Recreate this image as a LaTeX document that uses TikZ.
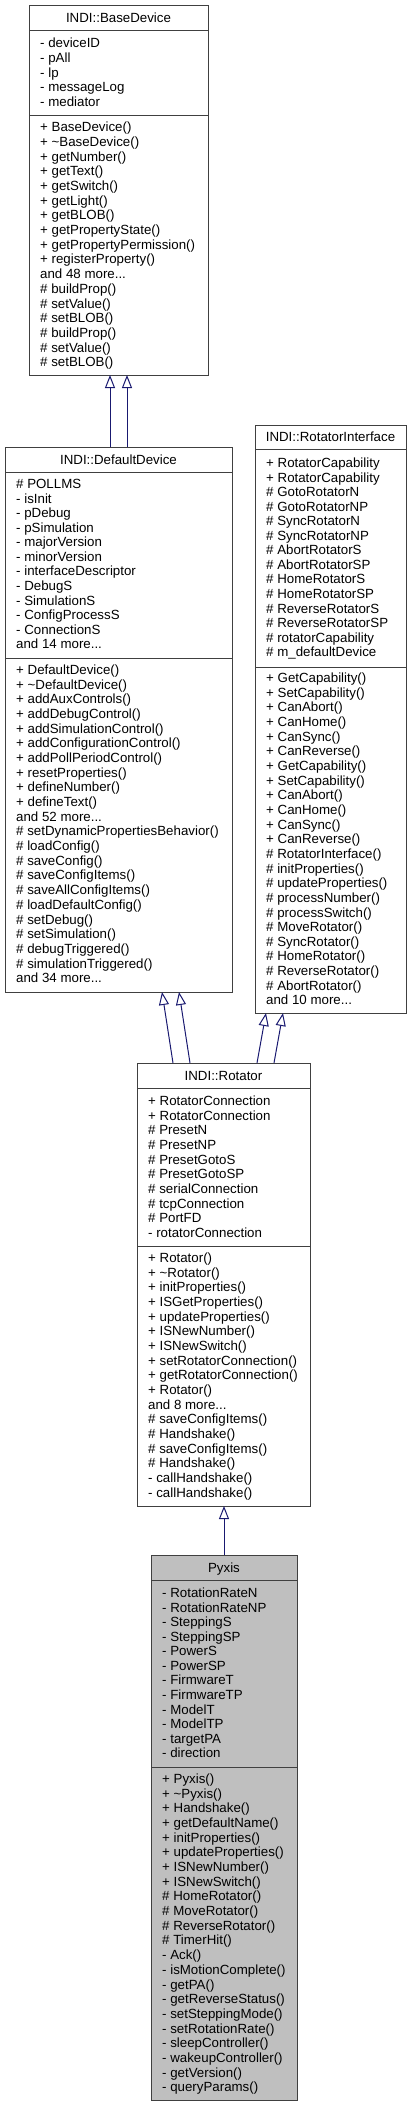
\documentclass[tikz,border=0pt]{standalone}
\usepackage{fontspec}
\setmainfont{Liberation Sans}
\usetikzlibrary{arrows.meta}
\definecolor{edgeblue}{HTML}{191970}
\definecolor{bord}{HTML}{404040}
\definecolor{pyx}{HTML}{BFBFBF}
\tikzset{
  cls/.style={draw=bord, line width=1pt, inner sep=0pt, anchor=north west},
  txt/.style={anchor=base west, inner sep=0pt, font=\fontsize{13.3}{14.7}\selectfont},
  ttl/.style={anchor=base, inner sep=0pt, font=\fontsize{13.3}{14.7}\selectfont},
  sepline/.style={draw=bord, line width=1pt},
  inh/.style={draw=edgeblue, line width=1pt, -{Triangle[open, width=10pt, length=13pt, fill=white]}}
}
\newcommand\andmore[1]{and #1 more...}
% #1 name, #2 x, #3 y0, #4 dy, #5 list
\newcommand\cllines[5]{%
  \foreach \t [count=\i from 0] in {#5} {\node[txt] (#1-\i) at (#2, {#3+\i*#4+4.6}) {\t};}}
% #1 name #2 L #3 R #4 T #5 S1 #6 S2 #7 B #8 fill #9 title
\newcommand\clbox[9]{%
  \node[cls, fill=#8, minimum width={(#3-#2)*1pt}, minimum height={(#7-#4)*1pt}] (#1) at (#2,#4) {};
  \draw[sepline] (#2,#5) -- (#3,#5);
  \draw[sepline] (#2,#6) -- (#3,#6);
  \node[ttl] (#1-title) at ({(#2+#3)/2}, {(#4+#5)/2+4.6}) {#9};}
\begin{document}
\begin{tikzpicture}[x=1pt, y=-1pt]
\useasboundingbox (0,0) rectangle (411,2107);

% BaseDevice
\clbox{base}{29}{208}{5}{30}{115}{375}{white}{INDI::BaseDevice}
\cllines{basea}{40}{43}{14.7}{- deviceID,- pAll,- lp,- messageLog,- mediator}
\cllines{basem}{40}{127}{14.7}{+ BaseDevice(),+ \textasciitilde BaseDevice(),+ getNumber(),+ getText(),+ getSwitch(),+ getLight(),+ getBLOB(),+ getPropertyState(),+ getPropertyPermission(),+ registerProperty(),\andmore{48},\# buildProp(),\# setValue(),\# setBLOB(),\# buildProp(),\# setValue(),\# setBLOB()}

% DefaultDevice
\clbox{dd}{5}{232}{447}{472}{658}{992}{white}{INDI::DefaultDevice}
\cllines{dda}{16}{484}{14.55}{\# POLLMS,- isInit,- pDebug,- pSimulation,- majorVersion,- minorVersion,- interfaceDescriptor,- DebugS,- SimulationS,- ConfigProcessS,- ConnectionS,\andmore{14}}
\cllines{ddm}{16}{670}{14.67}{+ DefaultDevice(),+ \textasciitilde DefaultDevice(),+ addAuxControls(),+ addDebugControl(),+ addSimulationControl(),+ addConfigurationControl(),+ addPollPeriodControl(),+ resetProperties(),+ defineNumber(),+ defineText(),\andmore{52},\# setDynamicPropertiesBehavior(),\# loadConfig(),\# saveConfig(),\# saveConfigItems(),\# saveAllConfigItems(),\# loadDefaultConfig(),\# setDebug(),\# setSimulation(),\# debugTriggered(),\# simulationTriggered(),\andmore{34}}

% RotatorInterface
\clbox{ri}{255}{406}{425}{449.5}{667}{1013}{white}{INDI::RotatorInterface}
\cllines{ria}{266}{463}{14.54}{+ RotatorCapability,+ RotatorCapability,\# GotoRotatorN,\# GotoRotatorNP,\# SyncRotatorN,\# SyncRotatorNP,\# AbortRotatorS,\# AbortRotatorSP,\# HomeRotatorS,\# HomeRotatorSP,\# ReverseRotatorS,\# ReverseRotatorSP,\# rotatorCapability,\# m\_defaultDevice}
\cllines{rim}{266}{678}{14.65}{+ GetCapability(),+ SetCapability(),+ CanAbort(),+ CanHome(),+ CanSync(),+ CanReverse(),+ GetCapability(),+ SetCapability(),+ CanAbort(),+ CanHome(),+ CanSync(),+ CanReverse(),\# RotatorInterface(),\# initProperties(),\# updateProperties(),\# processNumber(),\# processSwitch(),\# MoveRotator(),\# SyncRotator(),\# HomeRotator(),\# ReverseRotator(),\# AbortRotator(),\andmore{10}}

% Rotator
\clbox{rot}{137}{310}{1063}{1088}{1246}{1506}{white}{INDI::Rotator}
\cllines{rota}{148}{1101}{14.67}{+ RotatorConnection,+ RotatorConnection,\# PresetN,\# PresetNP,\# PresetGotoS,\# PresetGotoSP,\# serialConnection,\# tcpConnection,\# PortFD,- rotatorConnection}
\cllines{rotm}{148}{1258}{14.67}{+ Rotator(),+ \textasciitilde Rotator(),+ initProperties(),+ ISGetProperties(),+ updateProperties(),+ ISNewNumber(),+ ISNewSwitch(),+ setRotatorConnection(),+ getRotatorConnection(),+ Rotator(),\andmore{8},\# saveConfigItems(),\# Handshake(),\# saveConfigItems(),\# Handshake(),- callHandshake(),- callHandshake()}

% Pyxis
\clbox{pyxis}{151}{297}{1555}{1580}{1767}{2100}{pyx}{Pyxis}
\cllines{pyxa}{162}{1593}{14.55}{- RotationRateN,- RotationRateNP,- SteppingS,- SteppingSP,- PowerS,- PowerSP,- FirmwareT,- FirmwareTP,- ModelT,- ModelTP,- targetPA,- direction}
\cllines{pyxm}{162}{1779}{14.67}{+ Pyxis(),+ \textasciitilde Pyxis(),+ Handshake(),+ getDefaultName(),+ initProperties(),+ updateProperties(),+ ISNewNumber(),+ ISNewSwitch(),\# HomeRotator(),\# MoveRotator(),\# ReverseRotator(),\# TimerHit(),- Ack(),- isMotionComplete(),- getPA(),- getReverseStatus(),- setSteppingMode(),- setRotationRate(),- sleepController(),- wakeupController(),- getVersion(),- queryParams()}

% connector end points on box edges
\coordinate (ddT1) at (110,447);  \coordinate (baseB1) at (110,375);
\coordinate (ddT2) at (127,447);  \coordinate (baseB2) at (127,375);
\coordinate (rotT1) at (173,1063); \coordinate (ddB1) at (162,992);
\coordinate (rotT2) at (190,1063); \coordinate (ddB2) at (179,992);
\coordinate (rotT3) at (257,1063); \coordinate (riB1) at (266,1013);
\coordinate (rotT4) at (274,1063); \coordinate (riB2) at (283,1013);
\coordinate (pyxT) at (224,1555);  \coordinate (rotB) at (224,1506);

\draw[inh] (ddT1) -- (baseB1);
\draw[inh] (ddT2) -- (baseB2);
\draw[inh] (rotT1) -- (ddB1);
\draw[inh] (rotT2) -- (ddB2);
\draw[inh] (rotT3) -- (riB1);
\draw[inh] (rotT4) -- (riB2);
\draw[inh] (pyxT) -- (rotB);
\end{tikzpicture}
\end{document}
